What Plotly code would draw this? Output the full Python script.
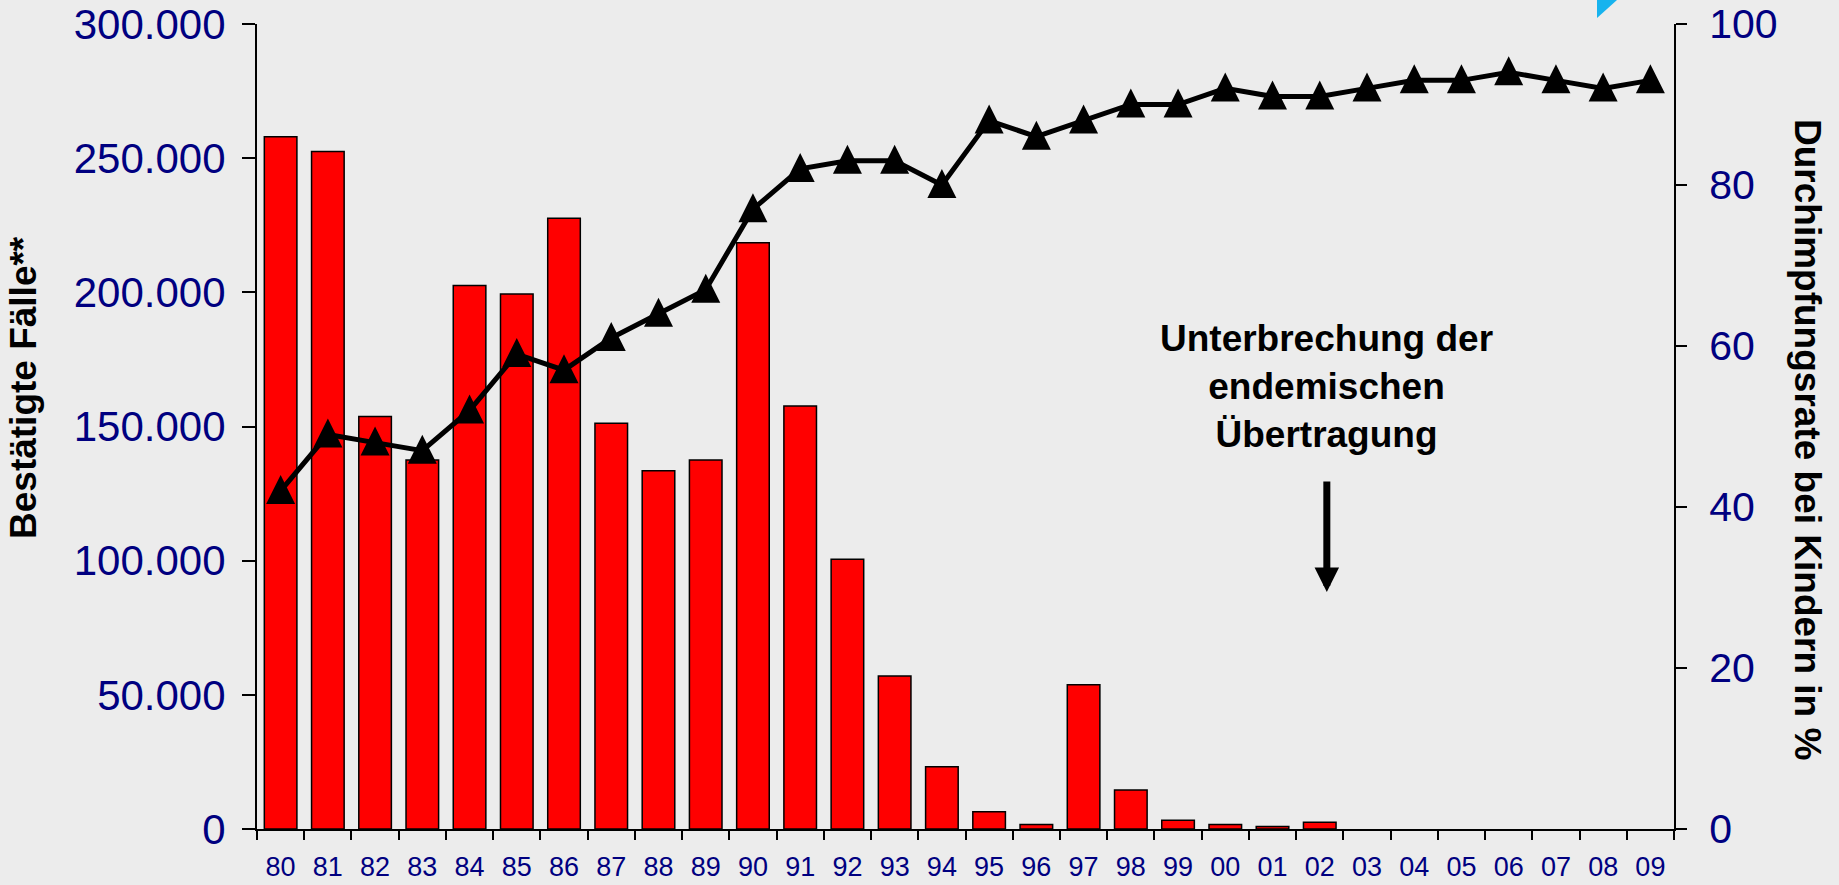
"""Masern in Amerika: bestätigte Fälle (Balken) und Durchimpfungsrate (Linie)."""
import plotly.graph_objects as go

years = ["80", "81", "82", "83", "84", "85", "86", "87", "88", "89",
         "90", "91", "92", "93", "94", "95", "96", "97", "98", "99",
         "00", "01", "02", "03", "04", "05", "06", "07", "08", "09"]
# 03-09: kein Balken im Original
cases = [258000, 252500, 153700, 137500, 202500, 199400, 227600, 151200, 133500, 137500,
         218500, 157600, 100500, 57000, 23200, 6400, 1700, 53800, 14500, 3300,
         1700, 900, 2500, None, None, None, None, None, None, None]
coverage = [42, 49, 48, 47, 52, 59, 57, 61, 64, 67,
            77, 82, 83, 83, 80, 88, 86, 88, 90, 90,
            92, 91, 91, 92, 93, 93, 94, 93, 92, 93]
case_ticks = [0, 50000, 100000, 150000, 200000, 250000, 300000]

_FONT = "Arial, 'Liberation Sans', sans-serif"
NAVY = "#000080"
BG = "#ececec"

# Plotfläche in Pixeln: links 257, rechts 1674, oben 24, unten 829
W, H = 1839, 885
L, R, T, B = 257, 165, 24, 56
PW, PH = W - L - R, H - T - B


def px_x(x):
    return (x - L) / PW


def px_y(y):
    return (H - B - y) / PH


fig = go.Figure()
fig.add_trace(
    go.Bar(
        x=years,
        y=cases,
        name="Bestätigte Fälle",
        marker={"color": "#ff0000", "line": {"color": "#000000", "width": 1.5}},
        yaxis="y",
    )
)
fig.add_trace(
    go.Scatter(
        x=years,
        y=coverage,
        mode="lines",
        line={"color": "#000000", "width": 5},
        yaxis="y2",
        name="Durchimpfungsrate",
    )
)
# Dreiecke: Spitze liegt am Punkt, deshalb eigene Achse um ~16 px nach oben versetzt
fig.add_trace(
    go.Scatter(
        x=years,
        y=coverage,
        mode="markers",
        marker={"symbol": "arrow-up", "size": 29, "color": "#000000"},
        yaxis="y3",
        cliponaxis=False,
        showlegend=False,
    )
)

shift = 16 / (PH / 100)
_axis_common = {
    "showgrid": False,
    "zeroline": False,
    "showline": True,
    "linecolor": "#000000",
    "linewidth": 2,
    "ticks": "outside",
    "tickwidth": 2,
    "tickcolor": "#000000",
    "automargin": False,
}
fig.update_layout(
    width=W,
    height=H,
    margin={"l": L, "r": R, "t": T, "b": B, "autoexpand": False},
    paper_bgcolor=BG,
    plot_bgcolor=BG,
    separators=",.",
    showlegend=False,
    bargap=0.31,
    font={"family": _FONT, "color": "#000000"},
    xaxis={
        **_axis_common,
        "type": "category",
        "range": [-0.5, len(years) - 0.5],
        "tickson": "boundaries",
        "ticklen": 9,
        "tickfont": {"size": 27, "color": NAVY, "family": _FONT},
        "ticklabelstandoff": 13,
    },
    yaxis={
        **_axis_common,
        "range": [0, 300000],
        "tickvals": case_ticks,
        "tickformat": ",d",
        "ticklen": 13,
        "tickfont": {"size": 42, "color": NAVY, "family": _FONT},
        "ticklabelstandoff": 8,
    },
    yaxis2={
        **_axis_common,
        "range": [0, 100],
        "dtick": 20,
        "overlaying": "y",
        "side": "right",
        "ticklen": 11,
        "tickfont": {"size": 41, "color": NAVY, "family": _FONT},
        "ticklabelstandoff": 14,
    },
    yaxis3={
        "range": [-shift, 100 - shift],
        "overlaying": "y",
        "visible": False,
        "automargin": False,
    },
    annotations=[
        {
            "text": "Bestätigte Fälle**",
            "xref": "paper", "yref": "paper",
            "x": px_x(23), "y": px_y(388),
            "xanchor": "center", "yanchor": "middle",
            "textangle": -90,
            "showarrow": False,
            "font": {"size": 37, "color": "#000000", "family": _FONT, "weight": "bold"},
        },
        {
            "text": "Durchimpfungsrate bei Kindern in %",
            "xref": "paper", "yref": "paper",
            "x": px_x(1808), "y": px_y(440),
            "xanchor": "center", "yanchor": "middle",
            "textangle": 90,
            "showarrow": False,
            "font": {"size": 37, "color": "#000000", "family": _FONT, "weight": "bold"},
        },
        {
            "text": "Unterbrechung der<br>endemischen<br>Übertragung",
            "xref": "x", "yref": "paper",
            "x": 22.15, "y": px_y(386),
            "xanchor": "center", "yanchor": "middle",
            "showarrow": False,
            "font": {"size": 37, "color": "#000000", "family": _FONT, "weight": "bold"},
        },
        {
            "text": "",
            "xref": "x", "yref": "paper",
            "x": 22.15, "y": px_y(592),
            "ax": 0, "ay": -112,
            "showarrow": True,
            "arrowhead": 2,
            "arrowwidth": 7,
            "arrowsize": 0.7,
            "arrowcolor": "#000000",
        },
    ],
    shapes=[
        {
            "type": "path",
            "xref": "paper", "yref": "paper",
            "path": f"M {px_x(1597)},{px_y(0)} L {px_x(1597)},{px_y(18)} L {px_x(1617)},{px_y(0)} Z",
            "fillcolor": "#17b3ee",
            "line": {"width": 0},
        }
    ],
)

fig.write_html(
    "out.html",
    config={"displayModeBar": False},
    post_script="document.body.style.margin='0'; document.body.style.background='#ececec';",
)
